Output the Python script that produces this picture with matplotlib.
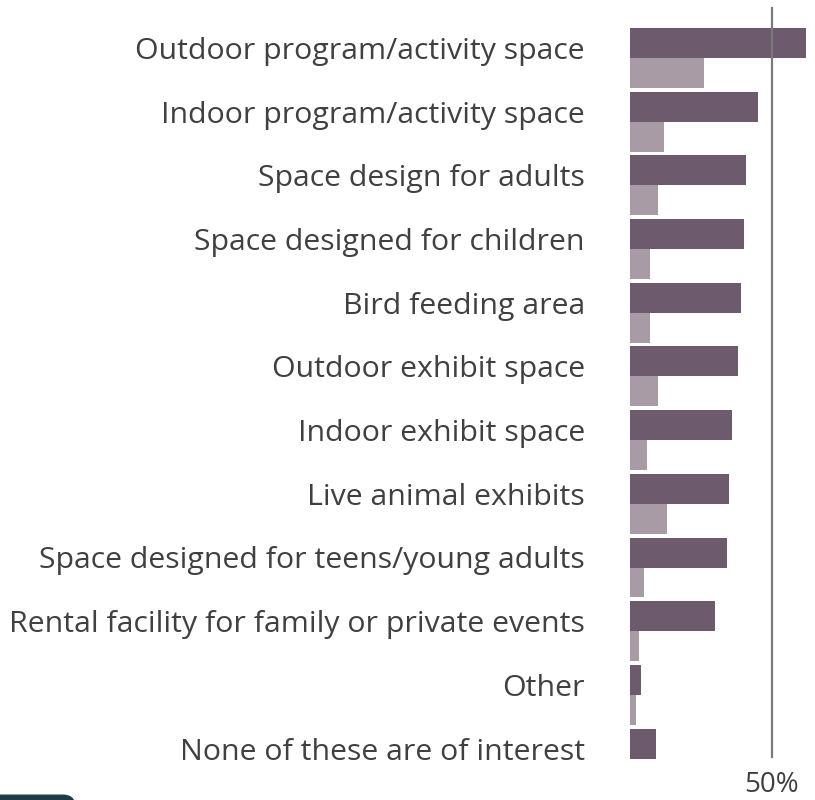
#!/usr/bin/env python

import numpy as np
import matplotlib.pyplot as plt
from matplotlib.patches import FancyBboxPatch

plt.rcParams['font.family'] = ['Open Sans', 'DejaVu Sans']

# Data (percent)
categories = [
    "Outdoor program/activity space",
    "Indoor program/activity space",
    "Space design for adults",
    "Space designed for children",
    "Bird feeding area",
    "Outdoor exhibit space",
    "Indoor exhibit space",
    "Live animal exhibits",
    "Space designed for teens/young adults",
    "Rental facility for family or private events",
    "Other",
    "None of these are of interest",
]
series_dark = [62, 45, 41, 40, 39, 38, 36, 35, 34, 30, 4, 9]
series_light = [26, 12, 10, 7, 7, 10, 6, 13, 5, 3, 2, 0]
ref_value = 50
ref_label = "50%"

dark_color = '#6d5a6d'
light_color = '#a99ba5'
text_color = '#404040'

fig = plt.figure(figsize=(8.15, 8), dpi=100)
# axes: left edge at bar origin, px_per_pct = 2.84
ax = fig.add_axes([630 / 815, 0, 185 / 815, 1])

y = np.arange(len(categories))
h = 0.47
ax.barh(y - h / 2, series_dark, height=h, color=dark_color, linewidth=0)
ax.barh(y + h / 2, series_light, height=h, color=light_color, linewidth=0)

ax.set_xlim(0, 185 / 2.84)
ax.set_ylim(11.65, -0.91)

# reference line
ax.plot([ref_value, ref_value], [-0.785, 10.97], color='#7a7a7a', lw=1.6, zorder=3)
ax.text(ref_value, 11.52, ref_label, ha='center', va='baseline',
        fontsize=20, color=text_color)

# category labels
for i, cat in enumerate(categories):
    ax.text(-45 / 2.84, i + 0.015, cat, ha='right', va='baseline',
            fontsize=21.8, color=text_color, clip_on=False)

ax.axis('off')

# cut-off logo at bottom-left corner
fig.patches.append(FancyBboxPatch((-0.02, -0.02), 0.112, 0.026,
                                  boxstyle='round,pad=0,rounding_size=0.015',
                                  transform=fig.transFigure, color='#1f3c46'))

fig.savefig('out.png', dpi=100)
